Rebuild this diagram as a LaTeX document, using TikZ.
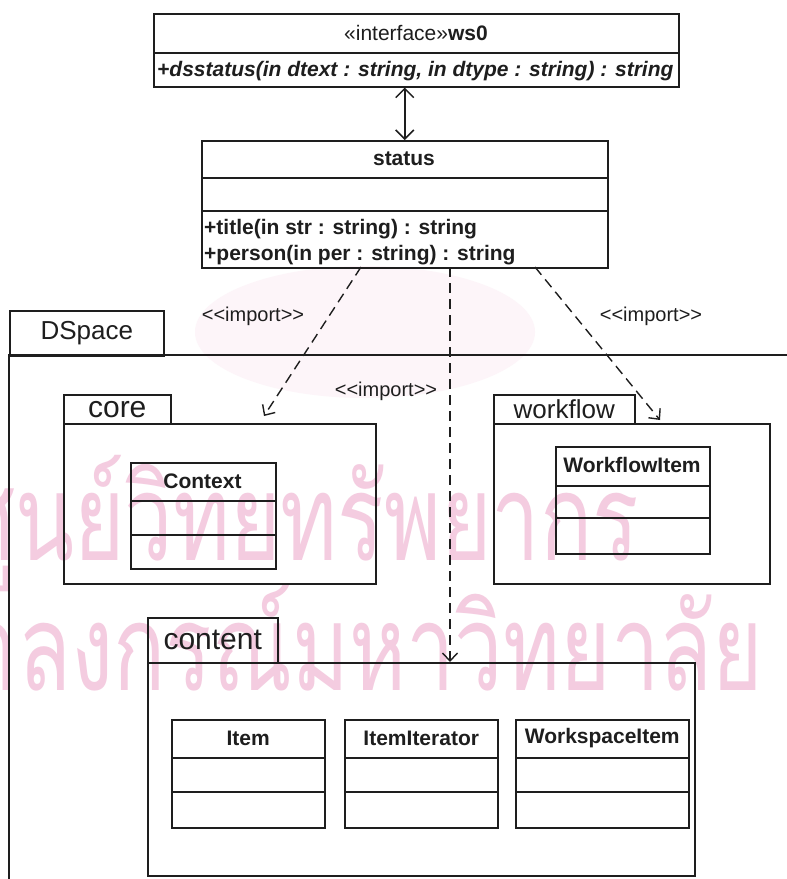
\documentclass[tikz,border=0pt]{standalone}
\usepackage{fontspec}
\setmainfont{Liberation Sans}
\newfontfamily\thaifont[Script=Thai]{Loma}
\usetikzlibrary{arrows.meta}
\definecolor{ink}{HTML}{1E1E1E}
\definecolor{wmpink}{RGB}{244,204,224}
\begin{document}
\begin{tikzpicture}[x=1pt,y=-1pt,
  ln/.style={draw=ink,line width=1.5pt},
  box/.style={draw=ink,line width=1.5pt,inner sep=0pt,anchor=north west},
  cname/.style={font=\fontsize{21}{25}\selectfont\bfseries,text=ink,inner sep=0pt},
  meth/.style={font=\fontsize{21}{25}\selectfont\bfseries,text=ink,inner sep=0pt,anchor=base west},
  methi/.style={font=\fontsize{21}{25}\selectfont\bfseries\itshape,text=ink,inner sep=0pt,anchor=base west},
  pkgA/.style={font=\fontsize{26}{30}\selectfont,text=ink,inner sep=0pt},
  pkgB/.style={font=\fontsize{30}{34}\selectfont,text=ink,inner sep=0pt},
  lbl/.style={font=\fontsize{20}{24}\selectfont,text=ink,inner sep=0pt},
  wm/.style={font=\thaifont\fontsize{120}{120}\selectfont,text=wmpink,inner sep=0pt,anchor=base west},
  dep/.style={draw=ink,line width=1.4pt,dash pattern=on 10pt off 6pt,-{Straight Barb[length=8pt,width=15pt]}},
  biarrow/.style={draw=ink,line width=1.5pt,{Straight Barb[length=9pt,width=18pt]}-{Straight Barb[length=9pt,width=18pt]}}
]
\useasboundingbox (0,0) rectangle (787,879);
\fill[white] (0,0) rectangle (787,879);

% faint watermark emblem tint and text
\fill[wmpink!20] (365,332) ellipse [x radius=170pt, y radius=66pt];
\begin{scope}
\clip (0,0) rectangle (787,879);
\node[wm] (wm1) at (-40,560) {\scalebox{0.72}[1]{ศูนย์วิทยทรัพยากร}};
\node[wm] (wm2) at (-140,690) {\scalebox{0.72}[1]{จุฬาลงกรณ์มหาวิทยาลัย}};
\end{scope}

% interface ws0
\node[box,minimum width=525pt,minimum height=73pt] (ws0) at (153,13) {};
\draw[ln] (ws0.west |- 0,53) -- (ws0.east |- 0,53);
\node[cname] (ws0t) at (416,33) {{\mdseries «interface»}ws0};
\node[methi] (ws0m) at (157,76) {+dsstatus(in dtext : string, in dtype : string) : string};

% status
\node[box,minimum width=406pt,minimum height=127pt] (status) at (201,140) {};
\draw[ln] (status.west |- 0,178) -- (status.east |- 0,178);
\draw[ln] (status.west |- 0,211) -- (status.east |- 0,211);
\node[cname] (statust) at (404,159) {status};
\node[meth] (m1) at (204,234) {+title(in str : string) : string};
\node[meth] (m2) at (204,260) {+person(in per : string) : string};

\draw[biarrow] (status.north) -- (status.north |- ws0.south);

% DSpace package
\node[box,minimum width=154pt,minimum height=45pt] (dstab) at (9,310) {};
\node[pkgA] (dsname) at (dstab.center) {DSpace};
\coordinate (dsR) at (787,355);
\coordinate (dsL) at (9,355);
\coordinate (dsB) at (9,879);
\draw[ln] (dsR) -- (dsL) -- (dsB);

% core package
\node[box,minimum width=107pt,minimum height=29pt] (coretab) at (63,394) {};
\node[pkgB] (corename) at (coretab.center) {core};
\node[box,minimum width=312pt,minimum height=160pt] (core) at (63,423) {};
\node[box,minimum width=145pt,minimum height=106pt] (context) at (130,462) {};
\draw[ln] (context.west |- 0,501) -- (context.east |- 0,501);
\draw[ln] (context.west |- 0,535) -- (context.east |- 0,535);
\node[cname] (contextt) at (202.5,481) {Context};

% workflow package
\node[box,minimum width=141pt,minimum height=29pt] (wftab) at (493,394) {};
\node[pkgA] (wfname) at (wftab.center) {workflow};
\node[box,minimum width=276pt,minimum height=160pt] (workflow) at (493,423) {};
\node[box,minimum width=154pt,minimum height=107pt] (wfitem) at (555,446) {};
\draw[ln] (wfitem.west |- 0,486) -- (wfitem.east |- 0,486);
\draw[ln] (wfitem.west |- 0,518) -- (wfitem.east |- 0,518);
\node[cname] (wfitemt) at (632,465) {WorkflowItem};

% content package
\node[box,minimum width=130pt,minimum height=45pt] (cttab) at (147,617) {};
\node[pkgB] (ctname) at (cttab.center) {content};
\node[box,minimum width=547pt,minimum height=213pt] (content) at (147,662) {};
\node[box,minimum width=153pt,minimum height=108pt] (item) at (171,719) {};
\node[box,minimum width=153pt,minimum height=108pt] (itemit) at (344,719) {};
\node[box,minimum width=173pt,minimum height=108pt] (wsitem) at (515,719) {};
\foreach \b in {item,itemit,wsitem}{
  \draw[ln] (\b.west |- 0,758) -- (\b.east |- 0,758);
  \draw[ln] (\b.west |- 0,792) -- (\b.east |- 0,792);
}
\node[cname] (itemt) at (item.north |- 0,738) {Item};
\node[cname] (itemitt) at (itemit.north |- 0,738) {ItemIterator};
\node[cname] (wsitemt) at (wsitem.north |- 0,738) {WorkspaceItem};

% dependencies
\coordinate (sL) at (361,267);
\coordinate (tL) at (264,416);
\coordinate (sM) at (450,267);
\coordinate (sR) at (535,267);
\coordinate (tR) at (660,420);
\draw[dep] (sL) -- (tL);
\draw[dep] (sM) -- (sM |- content.north);
\draw[dep] (sR) -- (tR);

\node[lbl] (imp1) at (253,316) {<\kern0pt<import>\kern0pt>};
\node[lbl] (imp2) at (651,316) {<\kern0pt<import>\kern0pt>};
\node[lbl] (imp3) at (386,391) {<\kern0pt<import>\kern0pt>};
\end{tikzpicture}
\end{document}
